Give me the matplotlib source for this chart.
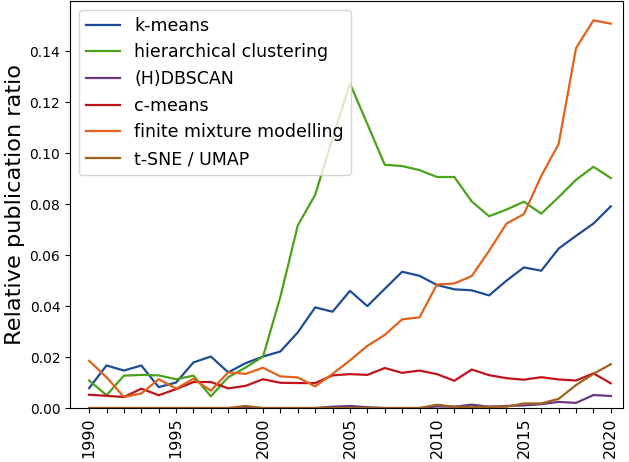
import matplotlib
matplotlib.use("Agg")
import matplotlib.pyplot as plt
import numpy as np

years = list(range(1990, 2021))

kmeans = [0.0078, 0.0167, 0.0147, 0.0167, 0.0082, 0.0100, 0.0179, 0.0202, 0.0140, 0.0176,
          0.0202, 0.0222, 0.0297, 0.0395, 0.0378, 0.0460, 0.0400, 0.0468, 0.0535, 0.0519,
          0.0483, 0.0466, 0.0462, 0.0442, 0.0500, 0.0552, 0.0539, 0.0626, 0.0676, 0.0724,
          0.0792]
hierarchical = [0.0108, 0.0050, 0.0127, 0.0130, 0.0128, 0.0113, 0.0127, 0.0046, 0.0121, 0.0159,
                0.0202, 0.0437, 0.0717, 0.0837, 0.1060, 0.1274, 0.1115, 0.0955, 0.0950, 0.0934,
                0.0907, 0.0907, 0.0811, 0.0753, 0.0779, 0.0810, 0.0763, 0.0828, 0.0896, 0.0947,
                0.0903]
dbscan = [0.0, 0.0, 0.0, 0.0, 0.0, 0.0, 0.0, 0.0, 0.0, 0.0,
          0.0, 0.0, 0.0, 0.0, 0.0005, 0.0008, 0.0003, 0.0, 0.0, 0.0,
          0.0006, 0.0005, 0.0013, 0.0005, 0.0008, 0.0010, 0.0015, 0.0024, 0.0020, 0.0051,
          0.0047]
cmeans = [0.0052, 0.0048, 0.0043, 0.0076, 0.0050, 0.0074, 0.0102, 0.0102, 0.0077, 0.0087,
          0.0113, 0.0099, 0.0098, 0.0098, 0.0128, 0.0133, 0.0130, 0.0157, 0.0138, 0.0147,
          0.0133, 0.0107, 0.0151, 0.0129, 0.0117, 0.0111, 0.0121, 0.0112, 0.0108, 0.0136,
          0.0097]
mixture = [0.0185, 0.0121, 0.0043, 0.0057, 0.0113, 0.0076, 0.0115, 0.0068, 0.0140, 0.0134,
           0.0158, 0.0124, 0.0120, 0.0085, 0.0134, 0.0187, 0.0244, 0.0287, 0.0348, 0.0356,
           0.0485, 0.0489, 0.0518, 0.0617, 0.0724, 0.0761, 0.0911, 0.1037, 0.1413, 0.1522,
           0.1509]
tsne = [0.0, 0.0, 0.0, 0.0, 0.0, 0.0, 0.0, 0.0, 0.0, 0.0008,
        0.0, 0.0, 0.0, 0.0, 0.0, 0.0, 0.0, 0.0, 0.0, 0.0,
        0.0013, 0.0005, 0.0003, 0.0005, 0.0005, 0.0018, 0.0018, 0.0036, 0.0090, 0.0134,
        0.0172]

labels = ["k-means", "hierarchical clustering", "(H)DBSCAN", "c-means",
          "finite mixture modelling", "t-SNE / UMAP"]
colors = ["#1f4c94", "#4aa31b", "#6c3a80", "#c0141c", "#e0621c", "#a0621e"]
series = [kmeans, hierarchical, dbscan, cmeans, mixture, tsne]

fig = plt.figure(figsize=(6.29, 4.62), dpi=100)
ax = fig.add_axes([70/629, 54/462, 553/629, 407/462])
for s, lab, c in zip(series, labels, colors):
    ax.plot(years, s, color=c, lw=1.6, label=lab)

ax.set_xlim(1988.9, 2020.7)
ax.set_ylim(0, 0.1598)
ax.set_xticks(years)
ax.set_xticklabels([str(y) if y % 5 == 0 else "" for y in years], rotation=90, fontsize=11.5)
ax.set_yticks([0, 0.02, 0.04, 0.06, 0.08, 0.10, 0.12, 0.14])
ax.set_yticklabels(["0.00", "0.02", "0.04", "0.06", "0.08", "0.10", "0.12", "0.14"], fontsize=10)
ax.set_ylabel("Relative publication ratio", fontsize=16.2, labelpad=3)
ax.legend(loc="upper left", fontsize=12.5)
fig.savefig("out.png", dpi=100)
